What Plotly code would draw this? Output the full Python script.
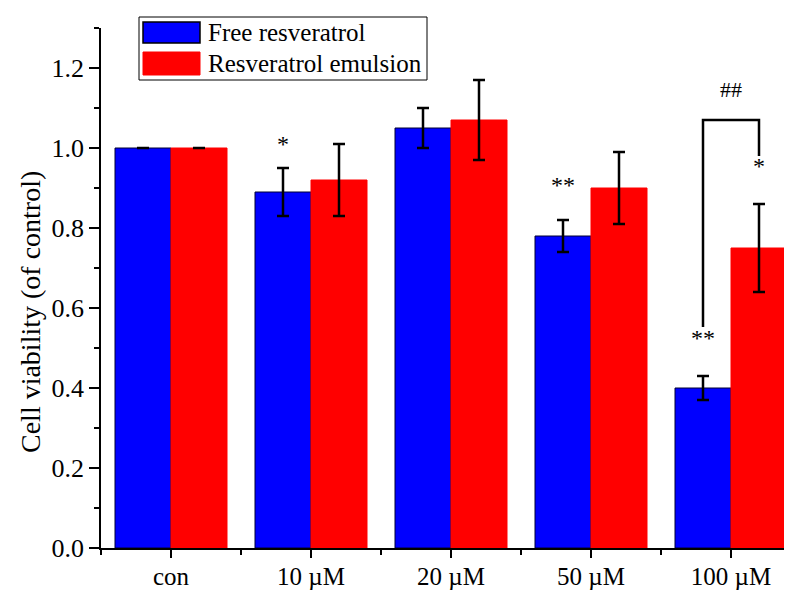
import plotly.graph_objects as go

categories = ["con", "10 µM", "20 µM", "50 µM", "100 µM"]
free_vals = [1.00, 0.89, 1.05, 0.78, 0.40]
free_err = [None, 0.06, 0.05, 0.04, 0.03]
emul_vals = [1.00, 0.92, 1.07, 0.90, 0.75]
emul_err = [None, 0.09, 0.10, 0.09, 0.11]
series_names = ["Free resveratrol", "Resveratrol emulsion"]

# the page body has an 8px margin; figure is laid out in page pixels
OFF = 8
W, H = 792 - OFF, 590 - OFF
L, R, T, B = 101 - OFF, 0, 28 - OFF, 42
PW, PH = W - L - R, H - T - B

def px(x):
    return (x - OFF - L) / PW

def py(y):
    return (H + OFF - B - y) / PH

FONT = "Liberation Serif, Times New Roman, serif"
xs = list(range(len(categories)))

fig = go.Figure()
fig.add_trace(go.Bar(
    x=xs, y=free_vals, name=series_names[0], offsetgroup="a",
    marker=dict(color="#0000ff", line=dict(color="#000033", width=1)),
    error_y=dict(type="data", array=free_err, color="black", thickness=2.5, width=6,
                 visible=True),
))
fig.add_trace(go.Bar(
    x=xs, y=emul_vals, name=series_names[1], offsetgroup="b",
    marker=dict(color="#ff0000", line=dict(color="#ff0000", width=1)),
    error_y=dict(type="data", array=emul_err, color="black", thickness=2.5, width=6,
                 visible=True),
))

fig.update_layout(
    width=W, height=H,
    margin=dict(l=L, r=R, t=T, b=B, autoexpand=False),
    paper_bgcolor="white", plot_bgcolor="white",
    barmode="group", bargap=0.2, bargroupgap=0,
    showlegend=False,
    font=dict(family=FONT, size=26, color="black"),
)
fig.update_xaxes(
    automargin=False,
    range=[-0.5, -0.5 + PW / 140.0],
    tickmode="array", tickvals=xs, ticktext=categories,
    ticks="outside", ticklen=8, tickwidth=1.5, tickcolor="black",
    minor=dict(tickmode="array", tickvals=[x + 0.5 for x in [-1] + xs], ticks="outside",
               ticklen=5, tickwidth=1.5, tickcolor="black"),
    showline=True, linecolor="black", linewidth=1.5,
    showgrid=False, zeroline=False,
    ticklabelstandoff=-3,
    tickfont=dict(family=FONT, size=25),
)
fig.update_yaxes(
    automargin=False,
    range=[0, 1.3],
    tickmode="array", tickvals=[0, 0.2, 0.4, 0.6, 0.8, 1.0, 1.2],
    ticktext=["0.0", "0.2", "0.4", "0.6", "0.8", "1.0", "1.2"],
    ticks="outside", ticklen=10, tickwidth=1.5, tickcolor="black",
    minor=dict(dtick=0.1, ticks="outside", ticklen=5, tickwidth=1.5, tickcolor="black"),
    showline=True, linecolor="black", linewidth=1.5,
    showgrid=False, zeroline=False,
    tickfont=dict(family=FONT, size=26),
)

# y-axis title
fig.add_annotation(x=px(30), y=py(312), xref="paper", yref="paper",
                   text="Cell viability (of control)", textangle=-90, showarrow=False,
                   xanchor="center", yanchor="middle", font=dict(family=FONT, size=28))

# significance bracket for 100 µM
fig.add_shape(type="path", xref="x", yref="y",
              path="M 3.8 0.5525 L 3.8 1.07 L 4.2 1.07 L 4.2 0.98",
              line=dict(color="black", width=2.5))

annots = [
    (1 - 0.2, 0.9775, "*"),
    (3 - 0.2, 0.875, "**"),
    (4 - 0.2, 0.4925, "**"),
    (4 + 0.2, 0.9225, "*"),
]
for x, y, t in annots:
    fig.add_annotation(x=x, y=y, xref="x", yref="y", text=t, showarrow=False,
                       yanchor="bottom", yshift=-2, font=dict(family=FONT, size=24))
fig.add_annotation(x=4.0, y=1.07, xref="x", yref="y", text="##", showarrow=False,
                   yanchor="bottom", yshift=16, font=dict(family=FONT, size=22))

# manual legend
fig.add_shape(type="rect", xref="paper", yref="paper",
              x0=px(139), x1=px(427), y0=py(17), y1=py(80),
              line=dict(color="black", width=1), fillcolor="white")
fig.add_shape(type="rect", xref="paper", yref="paper",
              x0=px(143), x1=px(200), y0=py(22), y1=py(43),
              line=dict(color="black", width=1.5), fillcolor="#0000ff")
fig.add_shape(type="rect", xref="paper", yref="paper",
              x0=px(143), x1=px(200), y0=py(52), y1=py(75),
              line=dict(color="#ff0000", width=1), fillcolor="#ff0000")
for name, cy in zip(series_names, [33, 64]):
    fig.add_annotation(x=px(206), y=py(cy), xref="paper", yref="paper", text=name,
                       showarrow=False, xanchor="left", yanchor="middle",
                       font=dict(family=FONT, size=25))

fig.write_html("out.html")
